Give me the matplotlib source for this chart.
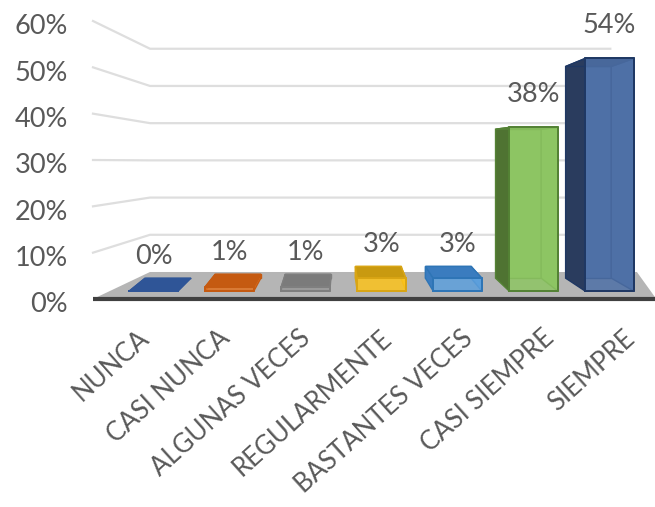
import matplotlib
matplotlib.use("Agg")
import matplotlib.pyplot as plt
from matplotlib.transforms import ScaledTranslation

# Datos
categorias = ["NUNCA", "CASI NUNCA", "ALGUNAS VECES", "REGULARMENTE",
              "BASTANTES VECES", "CASI SIEMPRE", "SIEMPRE"]
valores = [0, 1, 1, 3, 3, 38, 54]
ticks_y = [0, 10, 20, 30, 40, 50, 60]

# Colores: frente, lado/tapa
colores = ["#3F68AE", "#E0701F", "#969696", "#FBC31C", "#5C9FDC", "#8DC563", "#4E70A6"]
oscuros = ["#2F5597", "#C55A11", "#7B7B7B", "#C99A10", "#3A7CBF", "#4F7332", "#2A3C5E"]
bordes = ["#2F5597", "#C55A11", "#7F7F7F", "#D9A514", "#2E75B6", "#548235", "#1F3864"]

GRIS_TEXTO = "#595959"
W, H = 655, 507

# Perspectiva del grafico 3D, en unidades del eje
ESC_FRENTE, BASE_FRENTE = 0.93, 1.7
ESC_FONDO, BASE_FONDO = 0.846, 4.5
ESC_PARED, BASE_PARED = 0.803, 5.83
X_PARED = -0.026
X_FIN_PARED = 6.03

plt.rcParams["font.family"] = ["Lato", "DejaVu Sans"]

fig = plt.figure(figsize=(W / 100, H / 100), dpi=100)
ax = fig.add_axes([93 / W, 1 - 299 / H, (W - 93) / W, (299 - 21) / H])
ax.set_xlim(-0.776, 6.618)
ax.set_ylim(0, 60)
for s in ax.spines.values():
    s.set_visible(False)

# Paredes y suelo
for v in ticks_y[1:]:
    ax.plot([-0.776, X_PARED, X_FIN_PARED], [v, BASE_PARED + ESC_PARED * v, BASE_PARED + ESC_PARED * v],
            color="#DEDEDE", lw=1.6, zorder=1, clip_on=False)
ax.fill([-0.776, X_PARED, 6.38, 6.618], [0, BASE_PARED, BASE_PARED, 0.4], color="#B5B5B5", lw=0, zorder=2)
ax.plot([-0.776, 6.618], [0, 0], color="#404040", lw=3, zorder=3, solid_capstyle="butt", clip_on=False)

# Barras
for i, v in enumerate(valores):
    xf = i + 0.02
    xb = 0.21 + 0.922 * i
    fl, fr = xf - 0.32, xf + 0.32
    bl, br = xb - 0.30, xb + 0.30
    fb, ft = BASE_FRENTE, BASE_FRENTE + ESC_FRENTE * v
    bb, bt = BASE_FONDO, BASE_FONDO + ESC_FONDO * v
    c, o, e = colores[i], oscuros[i], bordes[i]
    z = 4 + i * 0.01
    # fondo y lados
    ax.fill([bl, br, br, bl], [bb, bb, bt, bt], fc=c, ec=e, lw=1, zorder=z)
    ax.fill([bl, fl, fl, bl], [bb, fb, ft, bt], fc=o, ec=e, lw=1, zorder=z)
    ax.fill([br, fr, fr, br], [bb, fb, ft, bt], fc=c, ec=e, lw=1, zorder=z)
    # tapa
    ax.fill([bl, br, fr, fl], [bt, bt, ft, ft], fc=o, ec=e, lw=1, zorder=z)
    # frente transparente
    ax.fill([fl, fr, fr, fl], [fb, fb, ft, ft], fc=c, ec=e, lw=1.2, alpha=0.85, zorder=z + 0.001)
    ax.plot([fl, fr, fr, fl, fl], [fb, fb, ft, ft, fb], color=e, lw=1.4, zorder=z + 0.002)
    # etiqueta
    sube = 22 if v < 10 else 33
    ax.annotate(f"{v}%", xy=(xf, max(ft, bt)), xytext=(0, sube * 0.72), textcoords="offset points",
                ha="center", va="center", fontsize=19.5, color=GRIS_TEXTO, zorder=8)

# Ejes
ax.set_yticks(ticks_y)
ax.set_yticklabels([f"{t}%" for t in ticks_y], fontsize=19.5, color=GRIS_TEXTO)
ax.tick_params(axis="y", length=0, pad=18)
baja = ScaledTranslation(0, -2.5 / 72, fig.dpi_scale_trans)
for lab in ax.get_yticklabels():
    lab.set_transform(lab.get_transform() + baja)
ax.set_xticks([-0.2 + 1.066 * i for i in range(len(categorias))])
ax.set_xticklabels(categorias, rotation=42, ha="right", va="top", rotation_mode="anchor",
                   fontsize=18.5, color=GRIS_TEXTO)
ax.tick_params(axis="x", length=0, pad=19)

fig.savefig("out.png", dpi=100)
